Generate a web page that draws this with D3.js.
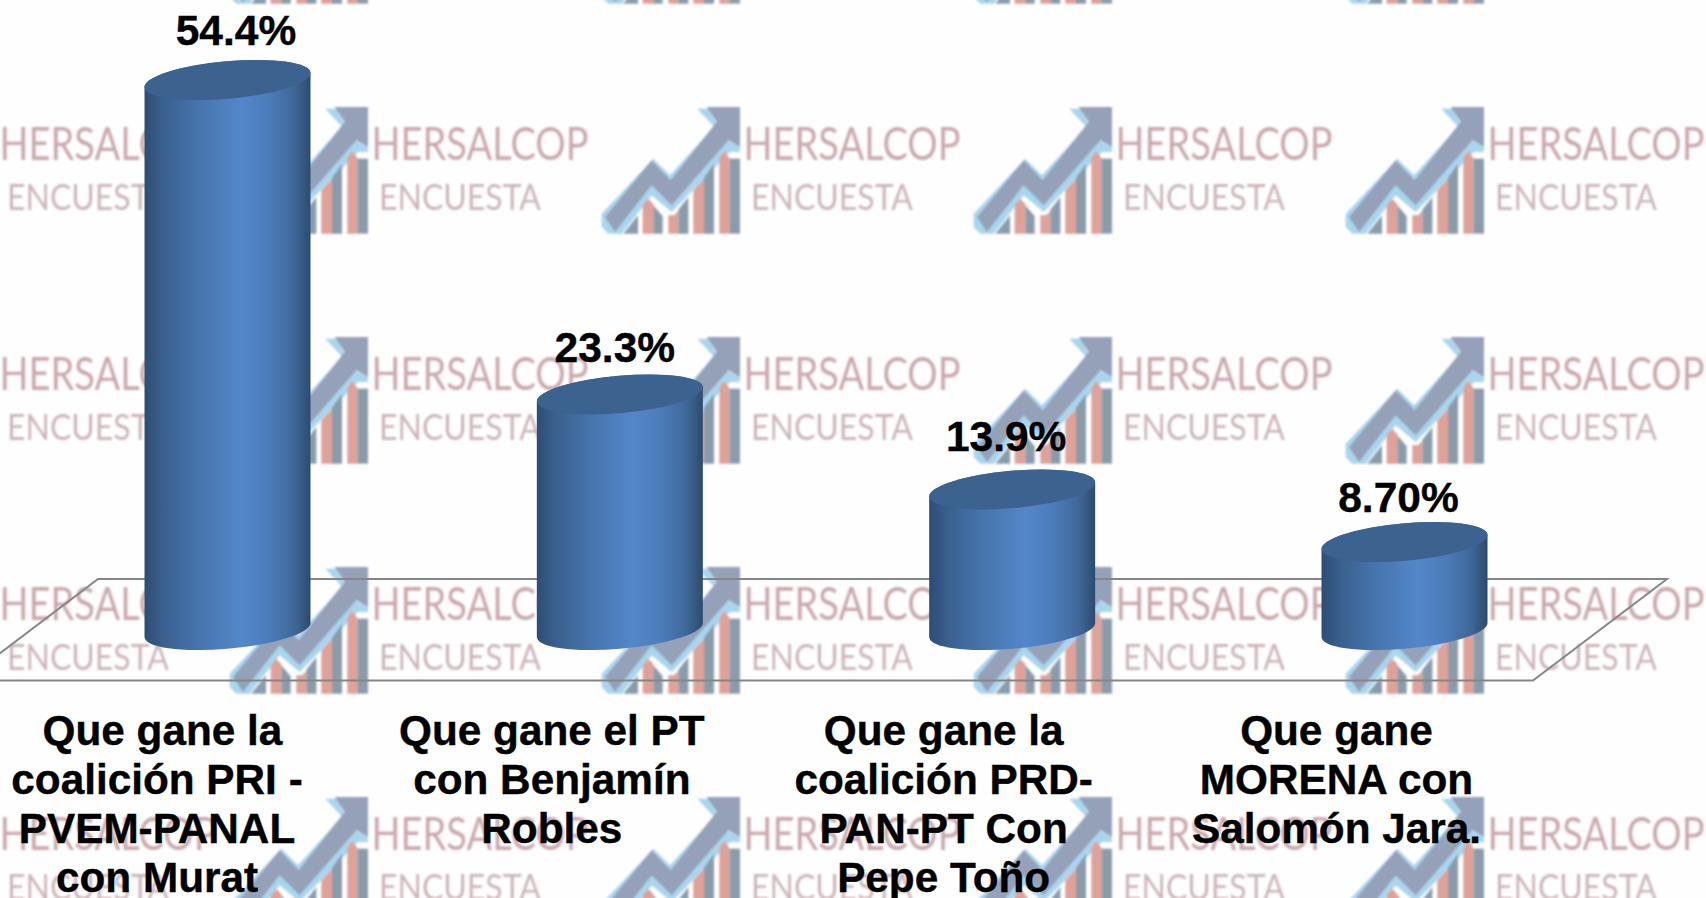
<!DOCTYPE html>
<html><head><meta charset="utf-8">
<script src="https://cdnjs.cloudflare.com/ajax/libs/d3/7.8.5/d3.min.js"></script>
<style>html,body{margin:0;padding:0;background:#fff;overflow:hidden}svg{display:block}</style>
</head><body><div id="chart"></div>
<script>
const categories = ["Que gane la coalición PRI - PVEM-PANAL con Murat","Que gane el PT con Benjamín Robles","Que gane la coalición PRD-PAN-PT Con Pepe Toño","Que gane MORENA con Salomón Jara."];
const categoryLines = [
  ["Que gane la","coalición PRI -","PVEM-PANAL","con Murat"],
  ["Que gane el PT","con Benjamín","Robles"],
  ["Que gane la","coalición PRD-","PAN-PT Con","Pepe Toño"],
  ["Que gane","MORENA con","Salomón Jara."]
];
const values = [54.4,23.3,13.9,8.7];
const valueLabels = ["54.4%","23.3%","13.9%","8.70%"];
const labelNudgeX = [8.5,-5,-6,-6];
const labelNudgeY = [-35,-32,-38,-30];
const categoryNudgeX = [-70.5,-68,-68.5,-68];
const firstLineNudgeX = [5.5,0,0,0];

const W=1706,H=898;
const x=d3.scalePoint().domain(categories).range([227.5,1404.5]);
const y=d3.scaleLinear().domain([0,54.4]).range([630,80]);

const svg=d3.select("#chart").append("svg").attr("width",W).attr("height",H).attr("viewBox",[0,0,W,H]);
const defs=svg.append("defs");
const blur=defs.append("filter").attr("id","soft").attr("x","-5%").attr("y","-5%").attr("width","110%").attr("height","110%");
blur.append("feGaussianBlur").attr("stdDeviation",0.9);
const grad=defs.append("linearGradient").attr("id","cyl").attr("x1",0).attr("x2",1).attr("y1",0).attr("y2",0);
[[0,"#2d4e75"],[0.12,"#3a618f"],[0.32,"#4674ad"],[0.58,"#5287ca"],[0.74,"#4c7dbb"],[0.9,"#3f6899"],[1,"#2c4b6e"]]
  .forEach(([o,c])=>grad.append("stop").attr("offset",o).attr("stop-color",c));

svg.append("rect").attr("width",W).attr("height",H).attr("fill","#fefefe");

// watermark tiles
const tileXs=d3.range(-143,W,372), tileYs=d3.range(-123,H,230);
const tile=defs.append("g").attr("id","mark");
const z=(pts)=>pts.map(p=>[(p[0]-123)/3,(p[1]-80)/3].join(",")).join(" ");
const bars=[
 ["#8a9cac",[[190,460],[234,405],[234,460]]],
 ["#dfa198",[[248,460],[248,375],[265,355],[280,372],[280,460]]],
 ["#8a9cac",[[280,460],[280,375],[308,408],[308,460]]],
 ["#dfa198",[[325,460],[325,405],[342,405],[355,392],[355,460]]],
 ["#8a9cac",[[355,460],[355,388],[385,350],[385,460]]],
 ["#dfa198",[[400,460],[400,330],[432,295],[432,460]]],
 ["#8a9cac",[[432,460],[432,292],[462,250],[462,460]]],
 ["#dfa198",[[478,460],[478,232],[492,212],[508,232],[508,460]]],
 ["#8a9cac",[[508,460],[508,235],[540,235],[540,460]]]
];
const gm=tile.append("g").attr("filter","url(#soft)");
gm.append("polygon").attr("fill","#a9d5ee").attr("points",z([[412,85],[445,85],[470,130],[330,285],[280,235],[125,400],[125,440],[145,460],[185,460],[275,345],[335,395],[510,215],[540,215],[540,200],[500,180]]));
gm.append("polygon").attr("fill","#94a1b8").attr("points",z([[440,80],[540,80],[540,200],[505,180],[335,375],[275,315],[165,455],[135,410],[275,240],[332,300],[470,125]]));
bars.forEach(([c,p])=>gm.append("polygon").attr("fill",c).attr("points",z(p)));
gm.append("text").text("HERSALCOP").attr("x",142.5).attr("y",53).attr("font-family","Lato").attr("font-size",46).attr("fill","#cba9ad")
  .attr("textLength",217).attr("lengthAdjust","spacingAndGlyphs");
gm.append("text").text("ENCUESTA").attr("x",150).attr("y",103).attr("font-family","Lato").attr("font-size",36).attr("fill","#cdb5b9")
  .attr("textLength",162).attr("lengthAdjust","spacingAndGlyphs");
const tiles=[];tileXs.forEach(a=>tileYs.forEach(b=>tiles.push([a,b])));
svg.append("g").selectAll("use").data(tiles).join("use").attr("href","#mark").attr("x",d=>d[0]).attr("y",d=>d[1]);

// floor
svg.append("polygon").attr("points","-36,680.5 1533,680.5 1667,579 98,579").attr("fill","none").attr("stroke","#868686").attr("stroke-width",2);

// cylinders
const theta=-5.08, a=83.3, b=18.7, hw=83, skew=7;
const cyl=svg.append("g").selectAll("g").data(categories).join("g");
cyl.append("path").attr("fill","url(#cyl)").attr("d",(c,i)=>{
  const cx=x(c), t=y(values[i]), base=y(0);
  return `M${cx-hw},${t+skew}L${cx-hw},${base+skew}A${a},${b} ${theta} 0 0 ${cx+hw},${base-skew}L${cx+hw},${t-skew}A${a},${b} ${theta} 0 0 ${cx-hw},${t+skew}Z`;
});
cyl.append("ellipse").attr("rx",a).attr("ry",b).attr("fill","#3c6290")
  .attr("transform",(c,i)=>`translate(${x(c)},${y(values[i])}) rotate(${theta})`);

// value labels
const font="'Liberation Sans',Arial,sans-serif";
svg.append("g").selectAll("text").data(categories).join("text")
  .attr("x",(c,i)=>x(c)+labelNudgeX[i]).attr("y",(c,i)=>y(values[i])+labelNudgeY[i])
  .attr("text-anchor","middle").attr("font-family",font).attr("font-weight","bold").attr("font-size",42.5)
  .attr("fill","#000").attr("stroke","#000").attr("stroke-width",0.4)
  .text((c,i)=>valueLabels[i]);

// category labels
const cat=svg.append("g").selectAll("text").data(categories).join("text")
  .attr("text-anchor","middle").attr("font-family",font).attr("font-weight","bold").attr("font-size",42.3)
  .attr("fill","#000").attr("stroke","#000").attr("stroke-width",0.4);
cat.each(function(c,i){
  d3.select(this).selectAll("tspan").data(categoryLines[i]).join("tspan")
    .attr("x",(l,j)=>x(c)+categoryNudgeX[i]+(j===0?firstLineNudgeX[i]:0)).attr("y",(l,j)=>744.5+j*49).text(l=>l);
});
</script></body></html>
